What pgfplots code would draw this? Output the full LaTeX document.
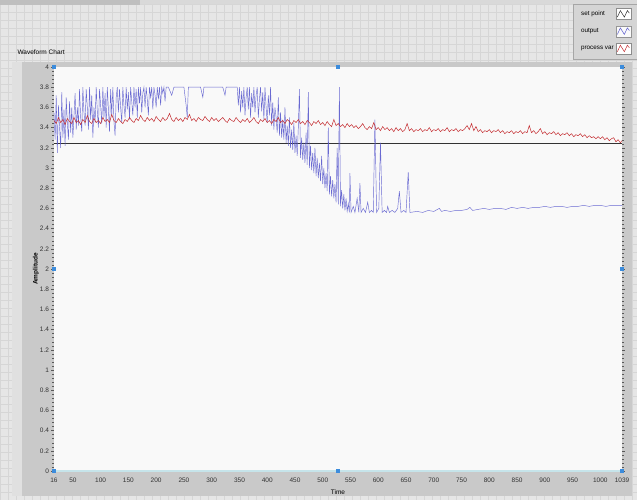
\documentclass[border=0pt]{standalone}
\usepackage{fontspec}
\setmainfont{Liberation Sans}
\usepackage{pgfplots}
\pgfplotsset{compat=1.18}

\definecolor{outerbg}{HTML}{E6E6E6}
\definecolor{outergrid}{HTML}{D6D6D6}
\definecolor{framec}{HTML}{C9C9C9}
\definecolor{plotbg}{HTML}{F9F9F9}
\definecolor{legbg}{HTML}{D5D5D5}
\definecolor{outblue}{RGB}{90,90,205}
\definecolor{pvred}{RGB}{196,44,48}
\definecolor{handlec}{RGB}{60,140,220}
\definecolor{edgec}{HTML}{C6E4EA}

\begin{document}
\begin{tikzpicture}[x=1pt,y=1pt]
% panel background with its grid
\fill[outerbg] (0,0) rectangle (637,500);
\draw[outergrid, line width=0.4pt, step=8] (0,0) grid (637,500);
\fill[black!25] (0,495) rectangle (140,500);
\fill[black!15] (140,496) rectangle (637,500);
% chart frame
\fill[framec] (12,4) rectangle (632,438);
\fill[black!12] (12,4) rectangle (22,438);
\node[anchor=west, font=\fontsize{6.5}{7}\selectfont] at (14,448) {Waveform Chart};

\begin{axis}[
    at={(54pt,29pt)}, anchor=south west,
    scale only axis, width=568pt, height=404pt,
    xmin=16, xmax=1039, ymin=0, ymax=4,
    clip=false,
    axis background/.style={fill=plotbg},
    axis line style={draw=none},
    xtick={16,50,100,150,200,250,300,350,400,450,500,550,600,650,700,750,800,850,900,950,1000,1039},
    ytick={0,0.2,0.4,0.6,0.8,1,1.2,1.4,1.6,1.8,2,2.2,2.4,2.6,2.8,3,3.2,3.4,3.6,3.8,4},
    minor y tick num=4,
    tick align=outside,
    major tick length=2.5pt, minor tick length=1.5pt,
    tick style={black!65, line width=0.4pt},
    xtick style={draw=none},
    ticklabel style={font=\fontsize{6.5}{7}\selectfont, black!80},
    /pgf/number format/assume math mode=true,
    /pgf/number format/set thousands separator={},
    xticklabel style={yshift=-1pt},
    yticklabel style={xshift=1pt},
    xlabel={Time},
    ylabel={Amplitude},
    xlabel style={at={(axis description cs:0.5,0)}, anchor=center, yshift=-21pt, font=\fontsize{6.5}{7}\selectfont},
    ylabel style={at={(axis description cs:-0.032,0.5)}, anchor=center, font=\bfseries\fontsize{6.5}{7}\selectfont},
    legend plot pos=right,
    legend cell align=left,
    legend style={at={(1.0264,1.156)}, anchor=north east, fill=legbg, outer sep=0pt,
        draw=black!35, font=\fontsize{6.3}{7}\selectfont, row sep=6pt,
        inner xsep=6pt, inner ysep=4.5pt},
    legend image code/.code={
        \draw[black!45, fill=white, line width=0.3pt, solid] (0pt,-5.5pt) rectangle (15pt,5.5pt);
        \draw[#1, line width=0.5pt, opacity=1] (1.5pt,-3pt) -- (4.5pt,3.5pt) -- (8.5pt,-3pt) -- (11.5pt,3.5pt) -- (13.5pt,1pt);
    },
]
% set point
\addplot[black!80, line width=0.6pt] coordinates {(16,3.24) (1039,3.24)};
\addlegendentry{set point}
% output
\addplot[outblue, line width=0.45pt, opacity=0.9] coordinates {
(16,3.55) (18,3.28) (20,3.72) (22,3.15) (24,3.62) (26,3.4) (28,3.2) (30,3.75)
(32,3.3) (34,3.58) (36,3.22) (38,3.7) (40,3.45) (42,3.28) (44,3.66) (46,3.35)
(48,3.6) (50,3.3) (52,3.52) (54,3.74) (56,3.38) (58,3.6) (60,3.42) (62,3.78)
(64,3.5) (66,3.36) (68,3.8) (70,3.55) (72,3.42) (74,3.78) (76,3.6) (78,3.38)
(80,3.8) (82,3.48) (84,3.72) (86,3.3) (88,3.6) (90,3.45) (92,3.8) (94,3.56)
(96,3.4) (98,3.78) (100,3.62) (102,3.44) (104,3.8) (106,3.5) (108,3.74) (110,3.4)
(112,3.8) (114,3.58) (116,3.36) (118,3.78) (120,3.52) (122,3.8) (124,3.46) (126,3.32)
(128,3.7) (130,3.8) (132,3.55) (134,3.78) (136,3.6) (138,3.45) (140,3.8) (142,3.62)
(144,3.5) (146,3.8) (148,3.58) (150,3.75) (152,3.48) (154,3.8) (156,3.66) (158,3.52)
(160,3.8) (162,3.6) (164,3.78) (166,3.5) (168,3.8) (170,3.64) (172,3.8) (174,3.55)
(176,3.74) (178,3.8) (180,3.6) (182,3.8) (184,3.68) (186,3.52) (188,3.8) (190,3.7)
(192,3.8) (194,3.58) (196,3.8) (198,3.72) (200,3.6) (202,3.8) (204,3.68) (206,3.8)
(208,3.62) (210,3.8) (212,3.74) (214,3.8) (216,3.66) (218,3.8) (222,3.8) (228,3.72)
(232,3.8) (250,3.8) (254,3.62) (256,3.5) (258,3.8) (280,3.8) (284,3.7) (286,3.8)
(320,3.8) (324,3.72) (326,3.8) (346,3.8) (348,3.62) (350,3.8) (352,3.55) (354,3.76)
(356,3.6) (358,3.8) (360,3.52) (362,3.7) (364,3.8) (366,3.58) (368,3.8) (370,3.5)
(372,3.74) (374,3.6) (376,3.8) (378,3.55) (380,3.72) (382,3.8) (384,3.5) (386,3.68)
(388,3.8) (390,3.56) (392,3.75) (394,3.48) (396,3.8) (398,3.6) (400,3.45) (402,3.72)
(404,3.52) (406,3.8) (408,3.42) (410,3.65) (412,3.38) (414,3.6) (416,3.5) (418,3.35)
(420,3.7) (422,3.32) (424,3.55) (426,3.3) (428,3.48) (430,3.28) (432,3.6) (434,3.25)
(436,3.42) (438,3.22) (440,3.5) (442,3.2) (444,3.38) (446,3.18) (448,3.45) (450,3.15)
(452,3.32) (454,3.12) (456,3.4) (458,3.78) (460,3.1) (462,3.3) (464,3.08) (466,3.25)
(468,3.05) (470,3.35) (472,3.03) (474,3.75) (476,3.0) (478,3.22) (480,2.98) (482,3.15)
(484,2.95) (486,3.2) (488,2.92) (490,3.1) (492,2.9) (494,3.05) (496,2.87) (498,3.12)
(500,2.84) (502,3.0) (504,2.8) (506,2.95) (508,2.77) (510,3.4) (512,2.74) (514,2.92)
(516,2.72) (518,2.88) (520,2.7) (522,2.84) (524,2.66) (526,3.2) (528,2.64) (530,3.8)
(532,2.62) (534,2.78) (536,2.6) (538,2.74) (540,2.58) (542,2.7) (544,2.57) (546,2.65)
(548,2.56) (549,2.95) (551,2.56) (555,2.62) (558,2.56) (562,2.7) (565,2.56) (567,2.85)
(569,2.56) (573,2.6) (577,2.56) (581,2.66) (584,2.56) (588,2.58) (591,2.56) (594,3.48)
(597,2.56) (601,2.6) (604,3.25) (607,2.56) (611,2.58) (615,2.56) (617,2.62) (620,2.56)
(625,2.58) (630,2.56) (635,2.6) (638,2.77) (641,2.56) (646,2.58) (650,2.56) (654,2.96)
(657,2.56) (670,2.57) (680,2.56) (690,2.58) (700,2.57) (710,2.6) (714,2.57) (720,2.58)
(730,2.57) (740,2.58) (750,2.58) (760,2.59) (765,2.61) (770,2.58) (780,2.59) (790,2.6)
(800,2.59) (810,2.6) (820,2.6) (830,2.59) (840,2.61) (850,2.6) (860,2.61) (870,2.6)
(880,2.61) (890,2.61) (900,2.62) (910,2.61) (920,2.62) (930,2.62) (940,2.61) (950,2.62)
(960,2.62) (970,2.63) (980,2.62) (990,2.63) (1000,2.63) (1010,2.62) (1020,2.63) (1030,2.63)
(1039,2.63)
};
\addlegendentry{output}
% process variable
\addplot[pvred, line width=0.5pt] coordinates {
(16,3.47) (20,3.44) (24,3.5) (28,3.45) (32,3.48) (36,3.43) (40,3.49) (44,3.46)
(48,3.44) (52,3.5) (56,3.45) (60,3.47) (64,3.43) (68,3.48) (72,3.45) (76,3.52)
(80,3.46) (84,3.44) (88,3.49) (92,3.45) (96,3.47) (100,3.44) (104,3.5) (108,3.46)
(112,3.48) (116,3.45) (120,3.53) (124,3.47) (128,3.45) (132,3.49) (136,3.46) (140,3.44)
(144,3.48) (148,3.46) (152,3.5) (156,3.47) (160,3.45) (164,3.49) (168,3.47) (172,3.52)
(176,3.48) (180,3.46) (184,3.5) (188,3.47) (192,3.49) (196,3.46) (200,3.51) (204,3.48)
(208,3.46) (212,3.5) (216,3.47) (220,3.49) (224,3.54) (228,3.48) (232,3.46) (236,3.5)
(240,3.47) (244,3.49) (248,3.46) (252,3.5) (256,3.48) (260,3.53) (264,3.47) (268,3.49)
(272,3.46) (276,3.5) (280,3.48) (284,3.47) (288,3.51) (292,3.48) (296,3.46) (300,3.5)
(304,3.47) (308,3.49) (312,3.46) (316,3.48) (320,3.5) (324,3.47) (328,3.45) (332,3.49)
(336,3.47) (340,3.46) (344,3.5) (348,3.47) (352,3.45) (356,3.48) (360,3.46) (364,3.49)
(368,3.45) (372,3.47) (376,3.5) (380,3.46) (384,3.44) (388,3.48) (392,3.46) (396,3.49)
(400,3.45) (404,3.47) (408,3.44) (412,3.48) (416,3.46) (420,3.5) (424,3.45) (428,3.47)
(432,3.44) (436,3.48) (440,3.46) (444,3.43) (448,3.47) (452,3.45) (456,3.48) (460,3.44)
(464,3.46) (468,3.43) (472,3.47) (476,3.45) (480,3.42) (484,3.46) (488,3.44) (492,3.47)
(496,3.43) (500,3.45) (504,3.42) (508,3.46) (512,3.43) (516,3.41) (520,3.48) (524,3.42)
(528,3.44) (532,3.41) (536,3.43) (540,3.4) (544,3.44) (548,3.41) (552,3.43) (556,3.4)
(560,3.42) (564,3.39) (568,3.41) (572,3.44) (576,3.4) (580,3.38) (584,3.41) (588,3.39)
(592,3.45) (596,3.38) (600,3.4) (604,3.37) (608,3.41) (612,3.38) (616,3.4) (620,3.37)
(624,3.39) (628,3.36) (632,3.4) (636,3.37) (640,3.39) (644,3.36) (648,3.38) (652,3.44)
(656,3.37) (660,3.39) (664,3.36) (668,3.38) (672,3.37) (676,3.39) (680,3.36) (684,3.38)
(688,3.37) (692,3.4) (696,3.36) (700,3.38) (704,3.37) (708,3.39) (712,3.36) (716,3.38)
(720,3.37) (724,3.4) (728,3.36) (732,3.38) (736,3.37) (740,3.39) (744,3.36) (748,3.38)
(752,3.37) (756,3.39) (760,3.42) (764,3.38) (768,3.44) (772,3.37) (776,3.41) (780,3.36)
(784,3.38) (788,3.35) (792,3.37) (796,3.36) (800,3.38) (804,3.35) (808,3.37) (812,3.36)
(816,3.38) (820,3.35) (824,3.37) (828,3.34) (832,3.36) (836,3.35) (840,3.37) (844,3.34)
(848,3.36) (852,3.35) (856,3.37) (860,3.34) (864,3.36) (868,3.35) (872,3.42) (876,3.35)
(880,3.37) (884,3.34) (888,3.36) (892,3.39) (896,3.34) (900,3.36) (904,3.33) (908,3.35)
(912,3.34) (916,3.36) (920,3.33) (924,3.35) (928,3.32) (932,3.34) (936,3.33) (940,3.35)
(944,3.32) (948,3.34) (952,3.31) (956,3.33) (960,3.32) (964,3.34) (968,3.31) (972,3.33)
(976,3.3) (980,3.32) (984,3.3) (988,3.31) (992,3.29) (996,3.31) (1000,3.29) (1004,3.31)
(1008,3.28) (1012,3.3) (1016,3.27) (1020,3.29) (1024,3.3) (1028,3.26) (1032,3.28) (1036,3.25)
(1039,3.27)
};
\addlegendentry{process var}
% bottom edge of the plot area
\addplot[edgec, line width=2pt, forget plot] coordinates {(16,0) (1039,0)};
% resize handles
\addplot[only marks, mark=square*, mark size=1.6pt, handlec, forget plot] coordinates {
(16,4) (527,4) (1039,4) (16,2) (1039,2) (16,0) (527,0) (1039,0)};
\end{axis}
\pgfresetboundingbox
\path (0,0) rectangle (637,500);
\end{tikzpicture}
\end{document}
